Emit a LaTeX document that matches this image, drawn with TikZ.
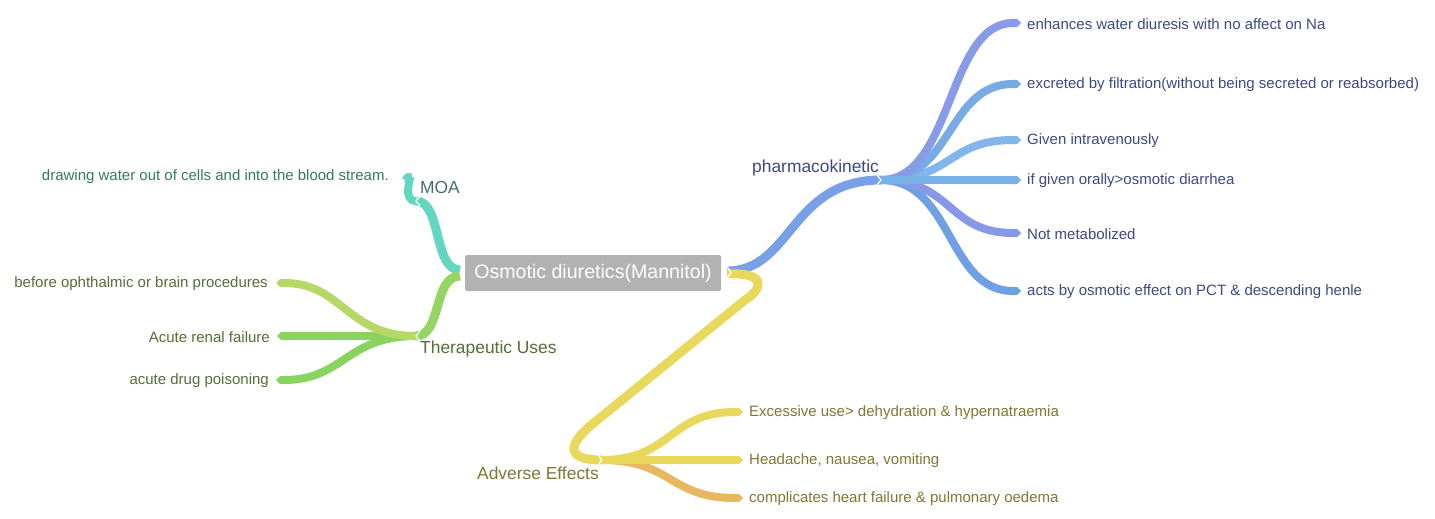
\documentclass[tikz,border=0pt]{standalone}
\usepackage{fontspec}
\setmainfont{Liberation Sans}
\usetikzlibrary{arrows.meta,calc}
\definecolor{rootgray}{RGB}{178,178,178}
\definecolor{moaC}{RGB}{98,214,192}
\definecolor{moaT}{RGB}{52,122,96}
\definecolor{moaL}{RGB}{64,112,110}
\definecolor{therC}{RGB}{150,212,100}
\definecolor{therA}{RGB}{182,216,102}
\definecolor{therB}{RGB}{140,210,95}
\definecolor{therD}{RGB}{135,212,95}
\definecolor{therT}{RGB}{85,110,55}
\definecolor{pharC}{RGB}{120,160,230}
\definecolor{phA}{RGB}{135,155,230}
\definecolor{phB}{RGB}{120,170,228}
\definecolor{phD}{RGB}{128,182,234}
\definecolor{phE}{RGB}{120,176,232}
\definecolor{phF}{RGB}{135,152,230}
\definecolor{phG}{RGB}{112,160,228}
\definecolor{pharT}{RGB}{58,74,130}
\definecolor{advC}{RGB}{232,216,92}
\definecolor{advO}{RGB}{232,184,96}
\definecolor{advT}{RGB}{130,118,50}
\tikzset{
  leafR/.style={font=\fontsize{15}{18}\selectfont, anchor=west, inner sep=0pt},
  leafL/.style={font=\fontsize{15}{18}\selectfont, anchor=east, inner sep=0pt},
  blabel/.style={font=\fontsize{17.4}{20}\selectfont, anchor=west, inner sep=0pt},
  branchline/.style={line width=9pt, line join=round},
  leafline/.style={line width=8pt, -{Triangle Cap[]}},
  notch/.style={white, line width=1.3pt},
}
\begin{document}
\begin{tikzpicture}[x=1pt,y=-1pt]
\useasboundingbox (0,0) rectangle (1435,519);
% root
\node[fill=rootgray, text=white, minimum width=256pt, minimum height=36pt, inner sep=0pt, rounded corners=1.5pt, font=\fontsize{19.6}{22}\selectfont] (root) at (593,273) {Osmotic diuretics(Mannitol)};
\coordinate (rL1) at (460,270);
\coordinate (rL2) at (460,276);
\coordinate (rR1) at (727,271);
\coordinate (rR2) at (727,274);
\coordinate (moaJ) at (416,201);
\coordinate (therJ) at (416,336);
\coordinate (pharJ) at (881,180);
\coordinate (advJ) at (602,460);
% labels
\node[blabel, text=moaL] (moa) at (420,188) {MOA};
\node[blabel, text=therT] (ther) at (420,349) {Therapeutic Uses};
\node[blabel, text=pharT] (phar) at (752,168) {pharmacokinetic};
\node[blabel, text=advT] (adv) at (477,473) {Adverse Effects};
% leaves text
\node[leafL, text=moaT] (m1) at (389,177) {drawing water out of cells and into the blood stream.};
\node[leafL, text=therT] (t1) at (268,284) {before ophthalmic or brain procedures};
\node[leafL, text=therT] (t2) at (270,337) {Acute renal failure};
\node[leafL, text=therT] (t3) at (269,381) {acute drug poisoning};
\node[leafR, text=pharT] (p1) at (1027,24) {enhances water diuresis with no affect on Na};
\node[leafR, text=pharT] (p2) at (1027,85) {excreted by filtration(without being secreted or reabsorbed)};
\node[leafR, text=pharT] (p3) at (1027,141) {Given intravenously};
\node[leafR, text=pharT] (p4) at (1027,181) {if given orally>osmotic diarrhea};
\node[leafR, text=pharT] (p5) at (1027,234) {Not metabolized};
\node[leafR, text=pharT] (p6) at (1027,292) {acts by osmotic effect on PCT \& descending henle};
\node[leafR, text=advT] (a1) at (749,413) {Excessive use> dehydration \& hypernatraemia};
\node[leafR, text=advT] (a2) at (749,461) {Headache, nausea, vomiting};
\node[leafR, text=advT] (a3) at (749,499) {complicates heart failure \& pulmonary oedema};
% leaf connectors (pharmacokinetic)
\foreach \n/\c in {p6/phG,p5/phF,p3/phD,p2/phB,p1/phA}{
  \draw[leafline, \c] (pharJ) .. controls ($(pharJ)+(72,0)$) and ($(\n.west)+(-80,-1)$) .. ($(\n.west)+(-6,-1)$);
}
\draw[leafline, phE] (pharJ) -- ($(pharJ -| p4.west)+(-6,0)$);
% adverse leaves
\draw[leafline, advO] (advJ) .. controls ($(advJ)+(70,0)$) and ($(a3.west)+(-80,-1)$) .. ($(a3.west)+(-6,-1)$);
\draw[leafline, advC] (advJ) -- ($(advJ -| a2.west)+(-6,0)$);
\draw[leafline, advC] (advJ) .. controls ($(advJ)+(70,0)$) and ($(a1.west)+(-80,-1)$) .. ($(a1.west)+(-6,-1)$);
% therapeutic leaves
\draw[leafline, therD] (therJ) .. controls ($(therJ)+(-70,0)$) and ($(t3.east)+(75,-1)$) .. ($(t3.east)+(7,-1)$);
\draw[leafline, therB] (therJ) -- ($(therJ -| t2.east)+(7,0)$);
\draw[leafline, therA] (therJ) .. controls ($(therJ)+(-70,0)$) and ($(t1.east)+(75,-1)$) .. ($(t1.east)+(8,-1)$);
% MOA leaf
\draw[leafline, moaC] (moaJ) .. controls ($(moaJ)+(-14,0)$) and ($(m1.east)+(22,0)$) .. ($(m1.east)+(13,1)$);
% branches
\draw[branchline, moaC] (rL1) .. controls (433,270) and (442,201) .. (moaJ);
\draw[branchline, therC] (rL2) .. controls (433,276) and (442,336) .. (therJ);
\draw[branchline, pharC] (rR1) .. controls (792,271) and (790,180) .. (pharJ);
\draw[branchline, advC] (rR2) .. controls (766,272) and (764,288) .. (745,300) -- (590,426) .. controls (566,447) and (568,460) .. (advJ);
% notches
\draw[notch] ($(rL1)+(5,-5)$) -- ($(rL1)+(0,3)$) -- ($(rL2)+(5,5)$);
\draw[notch] ($(rR1)+(-1,-6)$) -- ($(rR1)+(4,1.5)$) -- ($(rR2)+(-1,6)$);
\draw[notch] ($(moaJ)+(4,-5)$) -- (moaJ) -- ($(moaJ)+(4,5)$);
\draw[notch] ($(therJ)+(4,-5)$) -- (therJ) -- ($(therJ)+(4,5)$);
\draw[notch] ($(pharJ)+(-4,-5)$) -- (pharJ) -- ($(pharJ)+(-4,5)$);
\draw[notch] ($(advJ)+(-4,-5)$) -- (advJ) -- ($(advJ)+(-4,5)$);
\end{tikzpicture}
\end{document}
